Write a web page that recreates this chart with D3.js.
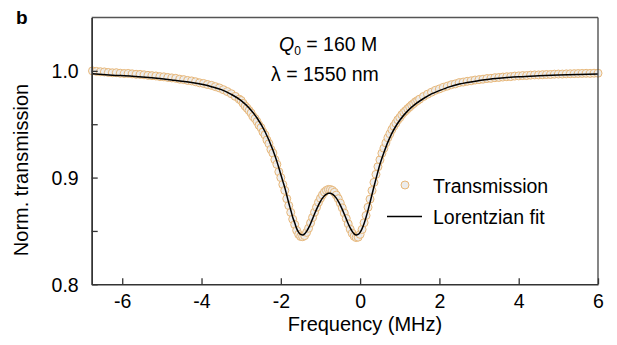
<!DOCTYPE html>
<html><head><meta charset="utf-8">
<script src="https://cdn.jsdelivr.net/npm/d3@7"></script>
<style>body{margin:0;background:#fff;} text{font-family:"Liberation Sans",Arial,sans-serif;fill:#000;}</style>
</head><body><svg id="c" width="617" height="345"></svg>
<script>
// Measured transmission (frequency in MHz)
const dataFreq = [
-6.75,-6.65,-6.55,-6.45,-6.35,-6.25,-6.15,-6.05,-5.95,-5.85,-5.75,-5.65,-5.55,-5.45,-5.35,-5.25,-5.15,-5.05,-4.95,-4.85,
-4.75,-4.65,-4.55,-4.45,-4.35,-4.25,-4.15,-4.05,-3.95,-3.85,-3.75,-3.65,-3.55,-3.45,-3.35,-3.25,-3.15,-3.05,
-3.0,-2.95,-2.9,-2.85,-2.8,-2.75,-2.7,-2.65,-2.6,-2.55,-2.5,-2.45,-2.4,-2.35,-2.3,-2.25,-2.2,-2.15,-2.1,-2.05,
-2.0,-1.95,-1.9,-1.85,-1.8,-1.75,-1.7,-1.65,-1.6,-1.55,-1.5,-1.45,-1.4,-1.35,-1.3,-1.25,-1.2,-1.15,-1.1,-1.05,
-1.0,-0.95,-0.9,-0.85,-0.8,-0.75,-0.7,-0.65,-0.6,-0.55,-0.5,-0.45,-0.4,-0.35,-0.3,-0.25,-0.2,-0.15,-0.1,-0.05,
0.0,0.05,0.1,0.15,0.2,0.25,0.3,0.35,0.4,0.45,0.5,0.55,0.6,0.65,0.7,0.75,0.8,0.85,0.9,0.95,
1.0,1.05,1.1,1.15,1.2,1.25,1.3,1.35,1.4,1.45,1.5,
1.6,1.7,1.8,1.9,2.0,2.1,2.2,2.3,2.4,2.5,2.6,2.7,2.8,2.9,3.0,3.1,3.2,3.3,3.4,3.5,
3.6,3.7,3.8,3.9,4.0,4.1,4.2,4.3,4.4,4.5,4.6,4.7,4.8,4.9,5.0,5.1,5.2,5.3,5.4,5.5,
5.6,5.7,5.8,5.9,6.0];
const dataTrans = [
1.000,.9995,.9992,.9990,.9985,.9982,.9983,.9978,.9975,.9976,.9972,.9968,.9967,.9963,.9958,.9955,.9952,.9946,.9944,.9938,
.9934,.9930,.9922,.9918,.9910,.9906,.9898,.9888,.9882,.9872,.9864,.9852,.9840,.9824,.9806,.9786,.9761,.9735,
.9722,.9695,.9670,.9650,.9628,.9605,.9572,.9553,.9525,.9490,.9467,.9427,.9400,.9352,.9318,.9264,.9230,.9168,.9124,.9054,
.9000,.8935,.8880,.8802,.8738,.8674,.8610,.8560,.8505,.8468,.8448,.8446,.8456,.8486,.8525,.8575,.8625,.8675,.8722,.8768,
.8806,.8838,.8864,.8880,.8889,.8888,.8880,.8862,.8836,.8802,.8761,.8716,.8668,.8617,.8566,.8517,.8478,.8450,.8438,.8442,
.8468,.8514,.8577,.8645,.8722,.8798,.8878,.8955,.9030,.9102,.9166,.9228,.9275,.9325,.9373,.9410,.9450,.9482,.9510,.9541,
.9562,.9589,.9610,.9627,.9646,.9662,.9680,.9694,.9711,.9722,.9735,
.9760,.9781,.9800,.9818,.9831,.9846,.9857,.9870,.9878,.9890,.9895,.9902,.9907,.9914,.9918,.9922,.9928,.9930,.9936,.9938,
.9942,.9945,.9946,.9951,.9953,.9956,.9956,.9960,.9962,.9962,.9964,.9966,.9966,.9969,.9970,.9970,.9972,.9973,.9974,.9975,
.9976,.9977,.9976,.9978,.9978];
// Lorentzian fit curve
const fitFreq = [-6.75,-6.25,-5.75,-5.25,-4.75,-4.25,-3.75,-3.5,-3.25,-3.0,-2.8,-2.6,-2.4,-2.2,-2.1,
-2.0,-1.95,-1.9,-1.85,-1.8,-1.75,-1.7,-1.65,-1.6,-1.55,-1.5,-1.45,-1.4,-1.35,-1.3,-1.25,-1.2,-1.15,-1.1,-1.05,
-1.0,-0.95,-0.9,-0.85,-0.8,-0.75,-0.7,-0.65,-0.6,-0.55,-0.5,-0.45,-0.4,-0.35,-0.3,-0.25,-0.2,-0.15,-0.1,-0.05,
0.0,0.05,0.1,0.15,0.2,0.25,0.3,0.35,0.4,0.45,0.5,0.55,0.6,0.7,0.8,0.9,1.0,1.2,1.4,1.6,1.8,2.0,2.25,2.5,3.0,3.5,4.0,4.5,5.0,5.5,6.0];
const fitTrans = [.9972,.9960,.9950,.9935,.9915,.9890,.9852,.9824,.9780,.9721,.9651,.9558,.9432,.9258,.9152,
.9028,.8967,.8906,.8834,.8762,.8696,.8629,.8576,.8522,.8487,.8468,.8463,.8473,.8496,.8528,.8568,.8613,.8658,.8702,.8742,
.8777,.8807,.8830,.8845,.8853,.8853,.8845,.8830,.8807,.8777,.8742,.8702,.8658,.8613,.8568,.8528,.8496,.8473,.8463,.8468,
.8487,.8522,.8570,.8629,.8695,.8767,.8842,.8916,.8988,.9058,.9125,.9182,.9234,.9332,.9414,.9481,.9537,.9625,.9690,.9741,.9784,.9815,.9850,.9876,.9909,.9930,.9945,.9954,.9961,.9966,.9970];
const xTicks = [-6,-4,-2,0,2,4,6];
const yMajor = [0.8,0.9,1.0];
const yMinor = [0.85,0.95];
const legendLabels = ["Transmission","Lorentzian fit"];

const svg = d3.select("#c");
const L=91.7, R=598, T=17.5, B=284.3;
const x = d3.scaleLinear().domain([-6.77,6]).range([L,R]);
const y = d3.scaleLinear().domain([0.8,1.05]).range([B,T]);
const FS = "19.5px";

// data points
const pts = dataFreq.map((f,i)=>[f,dataTrans[i]]);
svg.append("g").selectAll("circle").data(pts).join("circle")
  .attr("cx",d=>x(d[0])).attr("cy",d=>y(d[1])).attr("r",4)
  .attr("fill","#ececec").attr("fill-opacity",0.85).attr("stroke","#e8b778").attr("stroke-width",1);

// fit line
const fit = fitFreq.map((f,i)=>[f,fitTrans[i]]);
svg.append("path").datum(fit)
  .attr("d",d3.line().x(d=>x(d[0])).y(d=>y(d[1])).curve(d3.curveMonotoneX))
  .attr("fill","none").attr("stroke","#000").attr("stroke-width",1.5);

// frame
const ax = "#333";
svg.append("line").attr("x1",L).attr("x2",R).attr("y1",T).attr("y2",T).attr("stroke","#555").attr("stroke-width",1.3);
svg.append("line").attr("x1",R).attr("x2",R).attr("y1",T).attr("y2",B).attr("stroke","#444").attr("stroke-width",1.3);

// axes with inward ticks
const xAxis = svg.append("g").attr("transform",`translate(0,${B})`)
  .call(d3.axisBottom(x).tickValues(xTicks).tickSize(-6).tickPadding(10).tickSizeOuter(0).tickFormat(d=>String(d)));
const yAxis = svg.append("g").attr("transform",`translate(${L},0)`)
  .call(d3.axisLeft(y).tickValues(yMajor).tickSize(-6).tickPadding(13).tickSizeOuter(0).tickFormat(d3.format(".1f")));
svg.append("g").attr("transform",`translate(${L},0)`)
  .call(d3.axisLeft(y).tickValues(yMinor).tickSize(-6).tickSizeOuter(0).tickFormat(""));
svg.selectAll(".domain").attr("stroke",ax).attr("stroke-width",1.4);
svg.selectAll(".tick line").attr("stroke",ax).attr("stroke-width",1.3);
svg.selectAll(".tick text").style("font-family","'Liberation Sans',Arial,sans-serif").style("font-size",FS).attr("fill","#000");
yAxis.selectAll(".tick text").attr("dy","0.36em");

// axis titles
svg.append("text").attr("x",365).attr("y",331).attr("text-anchor","middle").style("font-size","20px").text("Frequency (MHz)");
svg.append("text").attr("transform",`translate(28,170) rotate(-90)`).attr("text-anchor","middle").style("font-size","20px").text("Norm. transmission");

// panel label
svg.append("text").attr("x",16).attr("y",24).style("font-size","19px").style("font-weight","bold").text("b");

// annotations
const q = svg.append("text").attr("x",279).attr("y",51).style("font-size",FS);
q.append("tspan").style("font-style","italic").text("Q");
q.append("tspan").attr("dy",4).style("font-size","12px").text("0");
q.append("tspan").attr("dy",-4).text(" = 160 M");
svg.append("text").attr("x",271).attr("y",81).style("font-size",FS).text("λ = 1550 nm");

// legend
svg.append("circle").attr("cx",405).attr("cy",185).attr("r",4).attr("fill","#ececec").attr("stroke","#e8b778").attr("stroke-width",1);
svg.append("text").attr("x",433).attr("y",193).style("font-size",FS).text(legendLabels[0]);
svg.append("line").attr("x1",387).attr("x2",422).attr("y1",216.5).attr("y2",216.5).attr("stroke","#000").attr("stroke-width",1.5);
svg.append("text").attr("x",433).attr("y",224).style("font-size",FS).text(legendLabels[1]);
</script></body></html>
